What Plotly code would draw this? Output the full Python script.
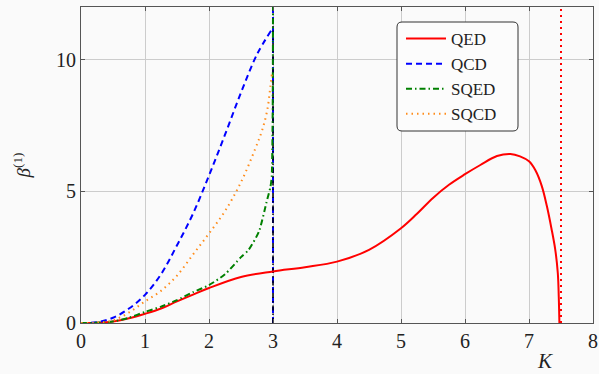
import plotly.graph_objects as go

# Two-loop coefficient beta^(1) against K for four theories
K_QED = [0, 0.25, 0.5, 0.75, 1.0, 1.25, 1.5, 1.75, 2.0, 2.5, 3.0, 3.5, 4.0, 4.5,
         5.0, 5.25, 5.5, 5.75, 6.0, 6.24, 6.5, 6.71, 6.86, 7.0, 7.1, 7.2, 7.28, 7.35,
         7.41, 7.45, 7.465, 7.475]
B_QED = [0, 0.01, 0.06, 0.18, 0.35, 0.55, 0.82, 1.08, 1.33, 1.75, 1.96, 2.12, 2.33, 2.78,
         3.6, 4.15, 4.75, 5.25, 5.65, 6.0, 6.34, 6.42, 6.33, 6.14, 5.8, 5.2, 4.43, 3.6,
         2.79, 1.9, 1.0, 0]

K_QCD = [0, 0.25, 0.5, 0.75, 1.0, 1.25, 1.5, 1.75, 2.0, 2.25, 2.5, 2.75, 2.97]
B_QCD = [0, 0.03, 0.2, 0.55, 1.07, 1.85, 2.95, 4.15, 5.6, 7.15, 8.75, 10.2, 11.1]

K_SQED = [0, 0.25, 0.5, 0.75, 1.0, 1.25, 1.5, 1.75, 2.0, 2.25, 2.5, 2.62, 2.78, 2.9,
          2.96, 2.98, 2.995, 3.0]
B_SQED = [0, 0.01, 0.06, 0.2, 0.42, 0.62, 0.87, 1.17, 1.44, 1.85, 2.5, 2.78, 3.47, 4.6,
          5.17, 5.55, 8.0, 12.0]

K_SQCD = [0, 0.25, 0.5, 0.75, 1.0, 1.25, 1.5, 1.75, 2.0, 2.25, 2.5, 2.72, 2.83, 2.91,
          2.96, 2.985]
B_SQCD = [0, 0.01, 0.1, 0.4, 0.82, 1.22, 1.8, 2.6, 3.4, 4.25, 5.35, 6.6, 7.32, 8.08,
          9.0, 9.5]

# Vertical asymptotes
K_POLE_QCD = 3.0
K_POLE_QED = 7.5

X_TICKS = [0, 1, 2, 3, 4, 5, 6, 7, 8]
Y_TICKS = [0, 5, 10]
Y_MAX = 12

FONT = "Liberation Serif"
INK = "#222222"
RED, BLUE, GREEN, ORANGE = "#ff0000", "#0000ff", "#008000", "#ff8c1a"
SMOOTH = 1.0

fig = go.Figure()

# asymptotes (no legend entries)
fig.add_trace(go.Scatter(x=[K_POLE_QED, K_POLE_QED], y=[0, Y_MAX], mode="lines",
                         line=dict(color=RED, width=2, dash="2px,4px"),
                         showlegend=False, hoverinfo="skip"))
fig.add_trace(go.Scatter(x=[K_POLE_QCD, K_POLE_QCD], y=[0, Y_MAX], mode="lines",
                         line=dict(color=BLUE, width=2, dash="6px,4px"),
                         showlegend=False, hoverinfo="skip"))
fig.add_trace(go.Scatter(x=[K_POLE_QCD, K_POLE_QCD], y=[0, Y_MAX], mode="lines",
                         line=dict(color="black", width=1.5, dash="5px,3px,1.5px,3px"),
                         showlegend=False, hoverinfo="skip"))

fig.add_trace(go.Scatter(x=K_QED, y=B_QED, name="QED", mode="lines",
                         line=dict(color=RED, width=2, shape="spline", smoothing=SMOOTH)))
fig.add_trace(go.Scatter(x=K_QCD, y=B_QCD, name="QCD", mode="lines",
                         line=dict(color=BLUE, width=2, dash="6px,4px",
                                   shape="spline", smoothing=SMOOTH)))
fig.add_trace(go.Scatter(x=K_SQED, y=B_SQED, name="SQED", mode="lines",
                         line=dict(color=GREEN, width=2, dash="6px,3px,1.5px,3px",
                                   shape="spline", smoothing=0.6)))
fig.add_trace(go.Scatter(x=K_SQCD, y=B_SQCD, name="SQCD", mode="lines",
                         line=dict(color=ORANGE, width=2, dash="1.5px,4px",
                                   shape="spline", smoothing=SMOOTH)))

# plot-area geometry in pixels, used to place the legend frame
W, H = 599, 374
ML, MR, MT, MB = 81, 6, 7, 51
PW, PH = W - ML - MR, H - MT - MB


def px(x):
    return (x - ML) / PW


def py(y):
    return (H - MB - y) / PH


# rounded legend frame
l, r, t, b, rad = 397, 518, 22, 131, 5
path = (f"M {px(l + rad)},{py(t)} L {px(r - rad)},{py(t)} "
        f"Q {px(r)},{py(t)} {px(r)},{py(t + rad)} "
        f"L {px(r)},{py(b - rad)} Q {px(r)},{py(b)} {px(r - rad)},{py(b)} "
        f"L {px(l + rad)},{py(b)} Q {px(l)},{py(b)} {px(l)},{py(b - rad)} "
        f"L {px(l)},{py(t + rad)} Q {px(l)},{py(t)} {px(l + rad)},{py(t)} Z")
fig.add_shape(type="path", path=path, xref="paper", yref="paper", layer="above",
              line=dict(color="#333333", width=1), fillcolor="#fcfcfc")

axis_common = dict(showgrid=True, gridcolor="#cccccc", gridwidth=1,
                   showline=True, linecolor="#555555", linewidth=1, mirror="allticks",
                   ticks="inside", ticklen=4, tickcolor="#555555", zeroline=False,
                   tickfont=dict(family=FONT, size=20, color=INK))

fig.update_xaxes(range=[0, 8], tickvals=X_TICKS, **axis_common)
fig.update_yaxes(range=[0, Y_MAX], tickvals=Y_TICKS,
                 title=dict(text="<i>β</i><sup>(1)</sup>",
                            font=dict(family=FONT, size=19, color=INK), standoff=20),
                 **axis_common)

fig.add_annotation(text="<i>K</i>", x=px(545), y=py(361), xref="paper", yref="paper",
                   xanchor="center", yanchor="middle", showarrow=False,
                   font=dict(family=FONT, size=21, color=INK))

fig.update_layout(
    template="none",
    font=dict(family=FONT, size=17, color=INK),
    width=W, height=H,
    margin=dict(l=ML, r=MR, t=MT, b=MB),
    paper_bgcolor="#fafafa", plot_bgcolor="#fafafa",
    showlegend=True,
    legend=dict(x=px(401), y=py(21), xanchor="left", yanchor="top",
                bgcolor="rgba(0,0,0,0)", borderwidth=0, itemwidth=40,
                font=dict(family=FONT, size=17, color=INK),
                tracegroupgap=0),
)

fig.write_html("out.html")
